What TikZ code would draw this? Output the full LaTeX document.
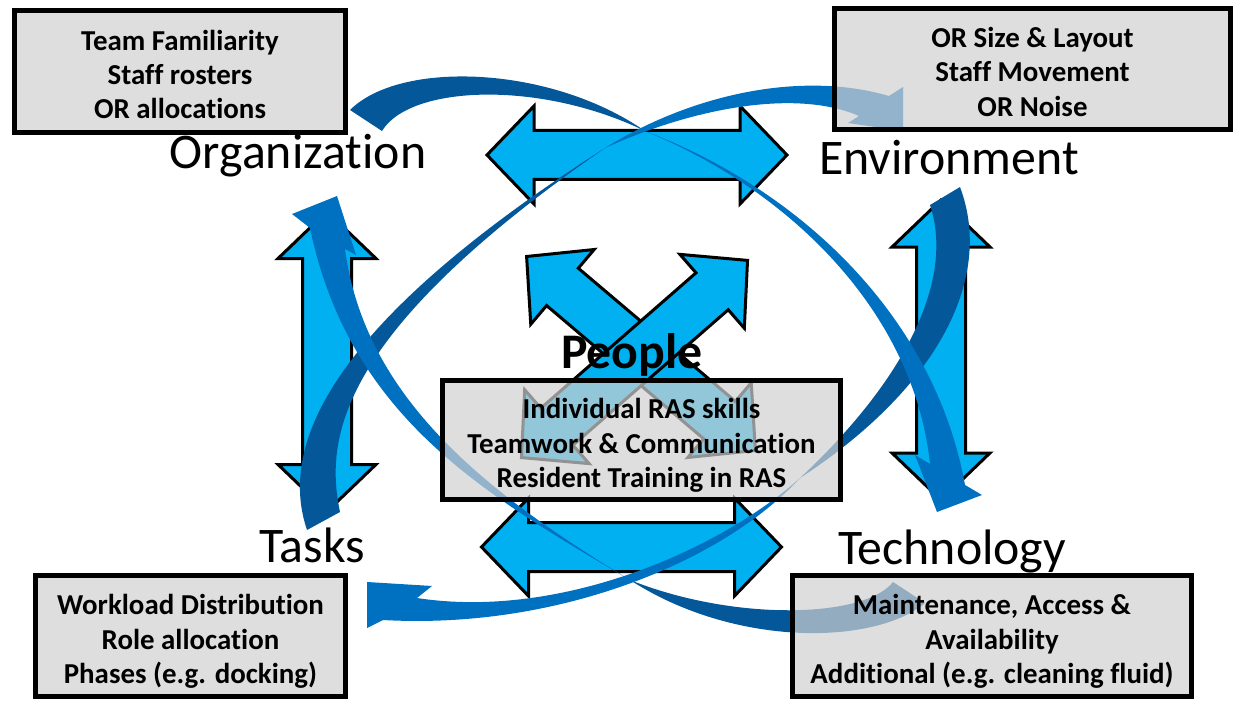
\documentclass[tikz,border=0pt]{standalone}
\usepackage{fontspec}
\setmainfont{Carlito}[Ligatures={NoCommon,NoContextual}]
\definecolor{arrowblue}{RGB}{0,176,240}
\definecolor{ribbondark}{RGB}{4,88,154}
\definecolor{ribbonmid}{RGB}{0,112,192}
\definecolor{boxgray}{RGB}{208,208,208}
\tikzset{
  blockarrow/.style={draw=black, line width=3bp, fill=arrowblue, line join=miter},
  dblarr/.pic={\path[blockarrow] (-150,0) -- (-103,-49) -- (-103,-24.5) -- (103,-24.5) -- (103,-49) -- (150,0) -- (103,49) -- (103,24.5) -- (-103,24.5) -- (-103,49) -- cycle;},
  backband/.style={fill=ribbondark},
  frontband/.style={fill=ribbonmid},
  infobox/.style={draw=black, line width=5bp, fill=boxgray, fill opacity=0.7, text opacity=1, align=center, font=\fontsize{29}{34.5}\selectfont\bfseries, inner sep=0pt},
  factor/.style={font=\fontsize{50}{60}\selectfont, inner sep=0pt, anchor=base},
}
\newcommand\toprule{\rule{0pt}{36bp}}
\newcommand\botrule{\rule[-10bp]{0pt}{10bp}}
\begin{document}
\begin{tikzpicture}[x=1bp,y=-1bp]
\useasboundingbox (0,0) rectangle (1238,702);
% block double arrows
\pic (orgenv) at (637,155) {dblarr};
\pic (tasktech) at (631.5,547) {dblarr};
\pic[rotate=90] (orgtask) at (327,361.5) {dblarr};
\pic[rotate=90] (envtech) at (941,350) {dblarr};
\pic[rotate=-40.3] (orgtech) at (641,353.5) {dblarr};
\pic[rotate=41.1] (taskenv) at (634.5,359) {dblarr};
% curved ribbons: back (dark) parts
\path[backband] (350,110) .. controls (400,60) and (550,65) .. (645,131) .. controls (540,80) and (410,85) .. (382,131) -- cycle;
\path[backband] (960,187) .. controls (995,280) and (935,390) .. (800,478) .. controls (905,380) and (955,280) .. (930,205) -- cycle;
\path[backband] (925,603) .. controls (875,645) and (735,648) .. (630,580) .. controls (735,622) and (865,618) .. (893,582) -- cycle;
\path[backband] (307,530) .. controls (280,450) and (320,330) .. (605,148) .. controls (335,335) and (325,440) .. (340,512) -- cycle;
% curved ribbons: front parts with heads
\path[frontband] (645,131) .. controls (800,195) and (915,320) .. (930,464) -- (915,455) -- (937,512) -- (982,495) -- (965,485) .. controls (935,320) and (805,192) .. (645,131) -- cycle;
\path[frontband] (800,478) .. controls (720,550) and (560,620) .. (417,598) -- (432,586) -- (367,582) -- (367,628) -- (383,620) .. controls (560,630) and (725,560) .. (800,478) -- cycle;
\path[frontband] (630,580) .. controls (490,495) and (365,400) .. (345,249) -- (356,255) -- (337,196) -- (292,214) -- (310,228) .. controls (350,420) and (490,497) .. (630,580) -- cycle;
\path[frontband] (605,148) .. controls (700,105) and (800,90) .. (859,116) -- (848,123) -- (903,131) -- (903,87) -- (889,96) .. controls (800,70) and (690,95) .. (605,148) -- cycle;
% boxes
\node[infobox, minimum width=331bp, minimum height=122bp] (orgbox) at (180,71.5) {\toprule Team Familiarity\\Staff rosters\\OR allocations\botrule};
\node[infobox, minimum width=396bp, minimum height=121bp] (envbox) at (1032.5,69) {\toprule OR Size \& Layout\\Staff Movement\\OR Noise\botrule};
\node[infobox, minimum width=398bp, minimum height=119bp] (peoplebox) at (641.5,440) {\toprule Individual RAS skills\\Teamwork \& Communication\\Resident Training in RAS\botrule};
\node[infobox, minimum width=310bp, minimum height=121bp] (taskbox) at (190.5,636) {\toprule Workload Distribution\\Role allocation\\Phases (e.g. docking)\botrule};
\node[infobox, minimum width=399bp, minimum height=121bp] (techbox) at (992,636) {\toprule Maintenance, Access \&\\Availability\\Additional (e.g. cleaning fluid)\botrule};
% labels
\node[factor] (org) at (298,169) {Organization};
\node[factor] (env) at (949,175) {Environment};
\node[factor] (tasks) at (312,562) {Tasks};
\node[factor] (tech) at (952,564) {Technology};
\node[factor, font=\fontsize{50}{60}\selectfont\bfseries] (people) at (632,368) {People};
\end{tikzpicture}
\end{document}
